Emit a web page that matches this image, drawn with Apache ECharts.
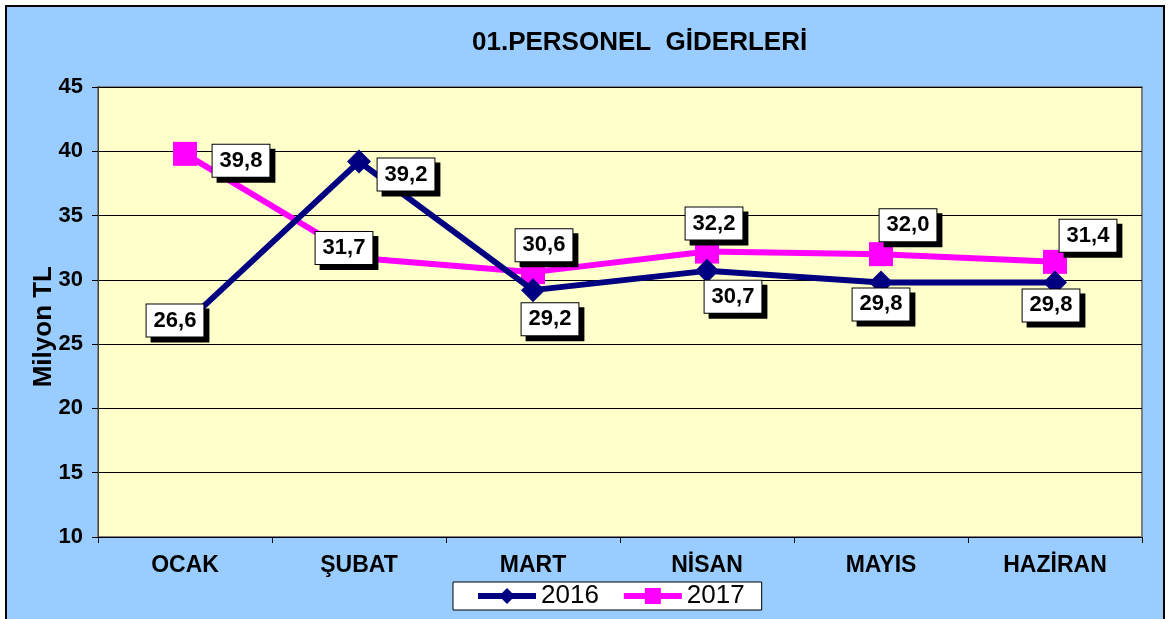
<!DOCTYPE html>
<html>
<head>
<meta charset="utf-8">
<script src="https://cdn.jsdelivr.net/npm/echarts@6/dist/echarts.min.js"></script>
<style>
  html, body { margin:0; padding:0; background:#fff; overflow:hidden; }
  #frame { position:absolute; left:5px; top:5px; width:1156px; height:640px; border:2px solid #000; background:#99CCFF; }
  #chart { position:absolute; left:0; top:0; width:1169px; height:619px; }
</style>
</head>
<body>
<div id="frame"></div>
<div id="chart"></div>
<script>
var months = ['OCAK', 'ŞUBAT', 'MART', 'NİSAN', 'MAYIS', 'HAZİRAN'];
var values2016 = [26.6, 39.2, 29.2, 30.7, 29.8, 29.8];
var values2017 = [39.8, 31.7, 30.6, 32.2, 32.0, 31.4];

// where each value box sits, relative to its point
var offsets2016 = [[-10, -3], [47, 13], [17, 29], [26, 26], [0, 22], [-4, 23]];
var offsets2017 = [[56, 7], [-15, -10], [11, -27], [7, -28], [27, -29], [33, -26]];

var fontFam = 'Arial, "Liberation Sans", sans-serif';

var boxLabel = {
  show: true,
  position: 'inside',
  color: '#000',
  fontFamily: fontFam,
  fontWeight: 'bold',
  fontSize: 22,
  lineHeight: 24,
  backgroundColor: '#fff',
  borderColor: '#000',
  borderWidth: 1,
  padding: [4, 7],
  shadowColor: '#000',
  shadowBlur: 0,
  shadowOffsetX: 5,
  shadowOffsetY: 5,
  formatter: function(p){
    return p.value.toFixed(1).replace('.', ',');
  }
};

function withOffsets(vals, offs){
  var res = [];
  for(var i=0;i<vals.length;i++){
    res.push({value: vals[i], label: {offset: offs[i]}});
  }
  return res;
}

var chart = echarts.init(document.getElementById('chart'), null, {renderer: 'canvas'});

chart.setOption({
  backgroundColor: 'transparent',
  animation: false,
  title: {
    text: '01.PERSONEL  GİDERLERİ',
    left: 467,
    top: 25,
    textStyle: {fontFamily: fontFam, fontWeight: 'bold', fontSize: 26, color: '#000'}
  },
  legend: {
    left: 453,
    top: 582,
    backgroundColor: '#fff',
    borderColor: '#000',
    borderWidth: 1,
    padding: [1, 17, 1, 22],
    itemGap: 22,
    itemWidth: 58,
    itemHeight: 20,
    lineStyle: {width: 6},
    textStyle: {fontFamily: fontFam, fontSize: 26, color: '#000'},
    data: ['2016', '2017']
  },
  graphic: [{
    type: 'text',
    left: 31,
    top: 266,
    rotation: Math.PI / 2,
    style: {text: 'Milyon TL', fontFamily: fontFam, fontWeight: 'bold', fontSize: 26, fill: '#000'}
  }],
  grid: {
    left: 98,
    right: 27,
    top: 87,
    bottom: 82,
    show: true,
    backgroundColor: '#FFFFCC',
    borderColor: '#808080',
    borderWidth: 2
  },
  xAxis: {
    type: 'category',
    data: months,
    boundaryGap: true,
    axisLine: {lineStyle: {color: '#000', width: 1}},
    axisTick: {show: true, length: 6, interval: 0, lineStyle: {color: '#000'}},
    axisLabel: {margin: 17, interval: 0, fontFamily: fontFam, fontWeight: 'bold', fontSize: 23, color: '#000'}
  },
  yAxis: {
    type: 'value',
    min: 10,
    max: 45,
    interval: 5,
    axisLine: {show: true, lineStyle: {color: '#404040', width: 1}},
    axisTick: {show: true, length: 6, lineStyle: {color: '#000'}},
    axisLabel: {margin: 15, fontFamily: fontFam, fontWeight: 'bold', fontSize: 22, color: '#000'},
    splitLine: {show: true, lineStyle: {color: '#000', width: 1}}
  },
  series: [
    {
      name: '2016',
      type: 'line',
      data: withOffsets(values2016, offsets2016),
      symbol: 'diamond',
      symbolSize: 24,
      itemStyle: {color: '#000080'},
      lineStyle: {color: '#000080', width: 6},
      label: boxLabel,
      z: 3
    },
    {
      name: '2017',
      type: 'line',
      data: withOffsets(values2017, offsets2017),
      symbol: 'rect',
      symbolSize: 24,
      itemStyle: {color: '#FF00FF'},
      lineStyle: {color: '#FF00FF', width: 6},
      label: boxLabel,
      z: 2
    }
  ]
});
</script>
</body>
</html>
